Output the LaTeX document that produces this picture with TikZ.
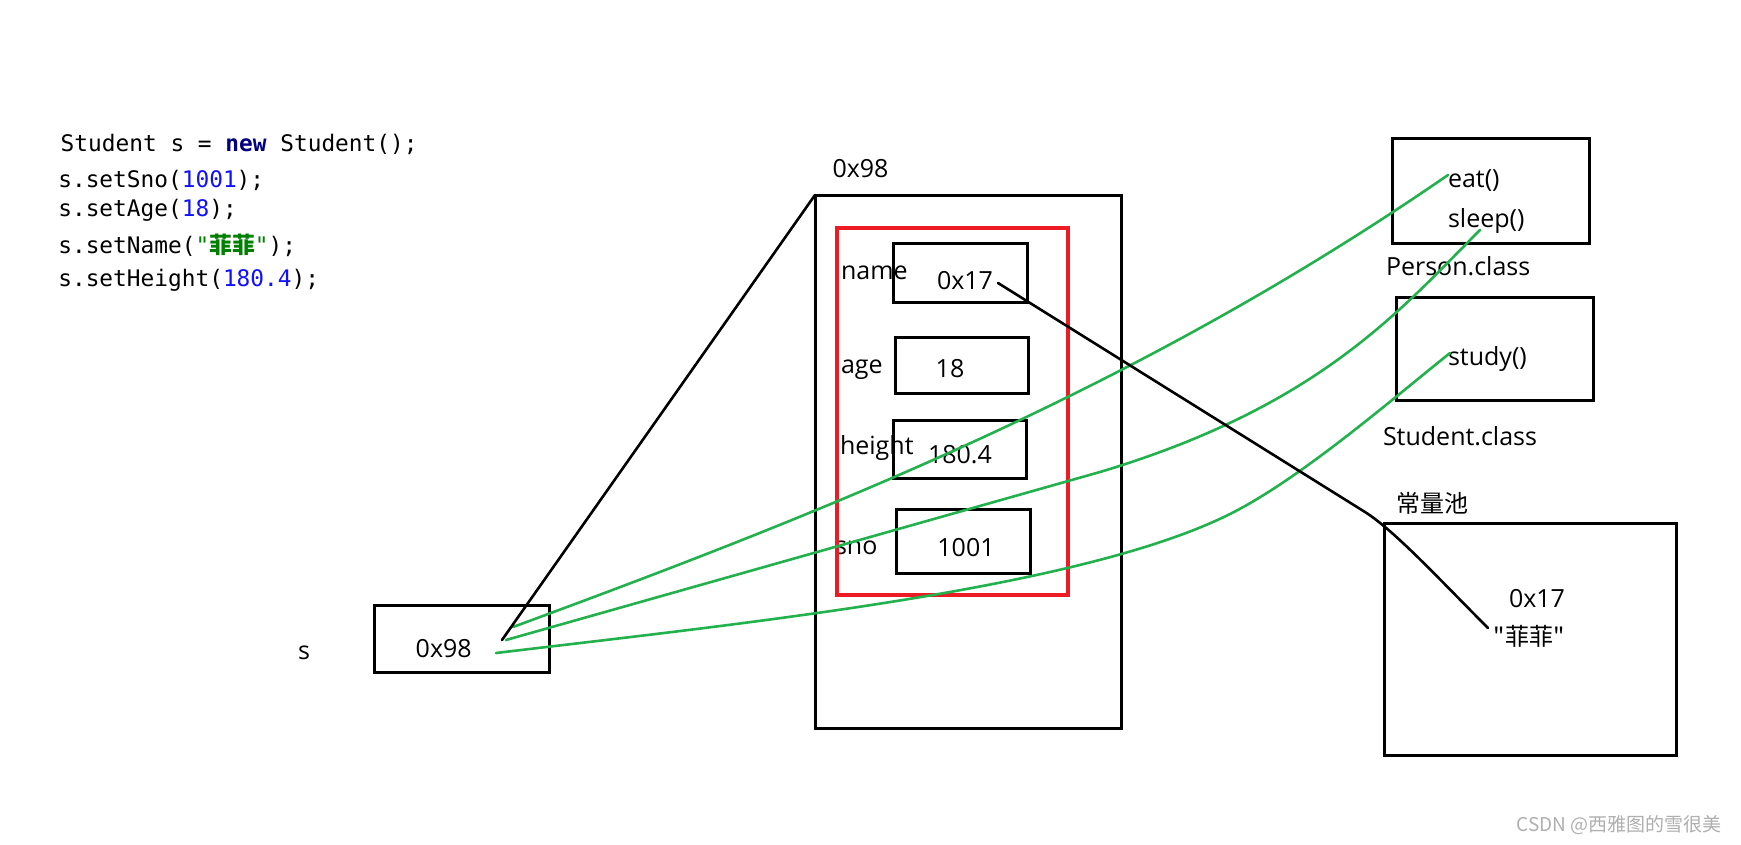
\documentclass[tikz,border=0pt]{standalone}
\usepackage{fontspec}
\setmainfont{Open Sans}
\setmonofont{DejaVu Sans Mono}
\newfontfamily\cjk{Noto Sans CJK SC}
\definecolor{lgreen}{RGB}{34,177,76}
\definecolor{pred}{RGB}{237,28,36}
\definecolor{kwnavy}{RGB}{0,0,128}
\definecolor{numblue}{RGB}{16,16,255}
\definecolor{strgreen}{RGB}{0,128,0}
\definecolor{wmgray}{RGB}{175,175,175}
\begin{document}
\begin{tikzpicture}[x=1pt,y=-1pt,
  box/.style={draw=black, line width=3pt, inner sep=0pt, outer sep=0pt},
  redbox/.style={draw=pred, line width=4.2pt, inner sep=0pt, outer sep=0pt},
  lbl/.style={inner sep=0pt, outer sep=0pt, font=\fontsize{25}{30}\selectfont},
  lblw/.style={lbl, anchor=base west},
  lblc/.style={lbl, anchor=base},
  cjklbl/.style={inner sep=0pt, outer sep=0pt, font=\cjk\fontsize{24}{28}\selectfont},
  code/.style={inner sep=0pt, outer sep=0pt, anchor=base west, font=\ttfamily\fontsize{22.8}{27}\selectfont},
  ptr/.style={draw=lgreen, line width=2.6pt, line cap=round},
  blk/.style={draw=black, line width=2.6pt, line cap=round}]
\fill[white] (0,0) rectangle (1741,844);
\path[use as bounding box] (0,0) rectangle (1741,844);

% code
\node[code] (c1) at (60.7,151) {Student s = \textcolor{kwnavy}{\bfseries new} Student();};
\node[code] (c2) at (58.3,187) {s.setSno(\textcolor{numblue}{1001});};
\node[code] (c3) at (58.3,216) {s.setAge(\textcolor{numblue}{18});};
\node[code] (c4) at (58.3,253) {s.setName(\textcolor{strgreen}{"{\cjk\bfseries 菲菲}"});};
\node[code] (c5) at (58.3,286) {s.setHeight(\textcolor{numblue}{180.4});};

% stack variable
\node[lblw] (slab) at (298,659) {s};
\node[box, minimum width=175pt, minimum height=67pt] (sbox) at (461.5,638.5) {};
\node[lblc] (sval) at (443.7,657) {0x98};
\coordinate (sptr) at (502,640);

% object in heap
\node[lblc] (objaddr) at (860.5,177) {0x98};
\node[box, minimum width=306pt, minimum height=533pt] (objbox) at (968,461.5) {};
\node[box, minimum width=134pt, minimum height=59pt] (namebox) at (960,272.5) {};
\node[box, minimum width=133pt, minimum height=56pt] (agebox) at (961.5,365) {};
\node[box, minimum width=133pt, minimum height=58pt] (heightbox) at (959.5,449) {};
\node[box, minimum width=134pt, minimum height=64pt] (snobox) at (963,541) {};
\node[lblw] (namel) at (841,279) {name};
\node[lblc] (namev) at (965,289) {0x17};
\node[lblw] (agel) at (841,373) {age};
\node[lblc] (agev) at (950,377) {18};
\node[lblw] (heightl) at (840,454) {height};
\node[lblc] (heightv) at (960,463) {180.4};
\node[lblw] (snol) at (835,554) {sno};
\node[lblc] (snov) at (966,556) {1001};
\node[redbox, minimum width=231pt, minimum height=367pt] (fields) at (952.5,411.5) {};

% method area
\node[box, minimum width=197pt, minimum height=105pt] (personbox) at (1490.5,190.5) {};
\node[lblw] (eat) at (1448,187) {eat()};
\node[lblw] (sleep) at (1448,227) {sleep()};
\node[lblw] (personl) at (1386,275) {Person.class};
\node[box, minimum width=197pt, minimum height=103pt] (studentbox) at (1494.5,348.5) {};
\node[lblw] (study) at (1448,365) {study()};
\node[lblw] (studentl) at (1383,445) {Student.class};

% constant pool
\node[cjklbl, anchor=base west] (pooll) at (1396,512) {常量池};
\node[box, minimum width=292pt, minimum height=232pt] (poolbox) at (1530,639) {};
\node[lblc] (poolv) at (1537,607) {0x17};
\node[cjklbl, anchor=base] (pools) at (1529,645) {"菲菲"};

% connectors
\coordinate (g1s) at (513,627);
\coordinate (g1e) at (1448,175);
\coordinate (g2s) at (506,640);
\coordinate (g2m) at (1100,472);
\coordinate (g2e) at (1480,230);
\coordinate (g3s) at (496,653);
\coordinate (g3m) at (1230,514);
\coordinate (g3e) at (1450,353);
\draw[ptr] (g1s) .. controls (825,512) and (1136,390) .. (g1e);
\draw[ptr] (g2s) -- (g2m) .. controls (1320,406) and (1400,310) .. (g2e);
\draw[ptr] (g3s) .. controls (746,623) and (1080,589) .. (g3m) .. controls (1300,479) and (1390,401) .. (g3e);

\draw[blk] (sptr) -- (objbox.north west);
\coordinate (n1) at (998,283);
\coordinate (n2) at (1365,512);
\coordinate (n3) at (1488,628);
\draw[blk] (n1) -- (n2) .. controls (1395,531) and (1440,580) .. (n3);

% watermark
\node[inner sep=0pt, anchor=base east, text=wmgray, font=\cjk\fontsize{19}{22}\selectfont] (wm) at (1722,831) {CSDN @西雅图的雪很美};
\end{tikzpicture}
\end{document}
